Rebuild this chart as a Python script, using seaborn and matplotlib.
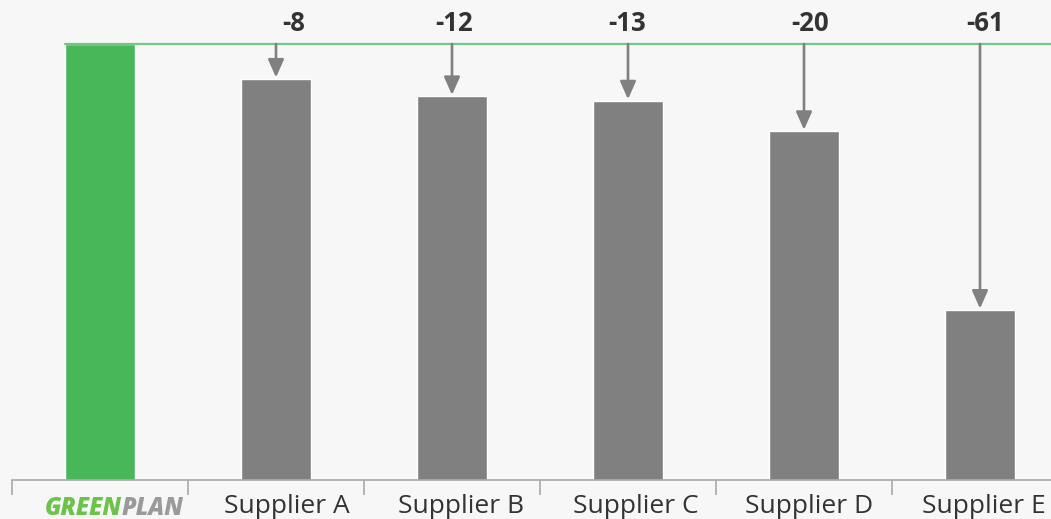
import matplotlib
matplotlib.use("Agg")
import matplotlib.pyplot as plt
import matplotlib.transforms as mtransforms
import seaborn as sns
import pandas as pd

# Scores: own plan vs. each supplier
categories = ["GREENPLAN", "Supplier A", "Supplier B", "Supplier C", "Supplier D", "Supplier E"]
values = [100, 92, 88, 87, 80, 39]
gaps = ["-8", "-12", "-13", "-20", "-61"]

BG = "#f7f7f7"
GREEN = "#47b75a"
LINE_GREEN = "#74c883"
GREY = "#808080"
AXIS = "#aaaaaa"
TEXT = "#333333"

# horizontal nudges (pixels) for the gap labels and the category labels
gap_nudge_px = [18, 2, -1, 6, 5]
label_nudge_px = [0, 11, 9, 7.5, 5.5, 3.5]

sns.set_theme(style="white")
plt.rcParams["font.family"] = ["Open Sans", "DejaVu Sans"]

df = pd.DataFrame({"name": categories, "value": values})

DPI = 100
fig = plt.figure(figsize=(10.51, 5.19), dpi=DPI, facecolor=BG)
W, H = 1051, 519
ax = fig.add_axes([12 / W, (H - 480) / H, 1056 / W, (480 - 44) / H])
ax.set_facecolor(BG)

palette = [GREEN] + [GREY] * (len(categories) - 1)
sns.barplot(data=df, x="name", y="value", hue="name", palette=palette,
            width=0.4, legend=False, ax=ax, saturation=1)

ax.set_xlim(-0.5, len(categories) - 0.5)
ax.set_ylim(0, values[0])
for side in ["top", "right", "left"]:
    ax.spines[side].set_visible(False)
ax.spines["bottom"].set_color(AXIS)
ax.spines["bottom"].set_linewidth(1.2)
ax.set_xlabel("")
ax.set_ylabel("")
ax.set_yticks([])

# category labels and dividers between categories
ax.set_xticks(range(len(categories)))
ax.set_xticklabels([""] + categories[1:])
ax.set_xticks([i - 0.5 for i in range(len(categories) + 1)], minor=True)
ax.tick_params(axis="x", which="minor", bottom=True, length=11, width=1.2,
               color=AXIS, direction="out")
ax.tick_params(axis="x", which="major", bottom=False, length=0, pad=10,
               labelsize=19, labelcolor=TEXT)
for lbl, dx in zip(ax.get_xticklabels(), label_nudge_px):
    shift = mtransforms.ScaledTranslation(dx / DPI, 0, fig.dpi_scale_trans)
    lbl.set_transform(lbl.get_transform() + shift)

# reference line at the plan's level
bar_left = ax.patches[0].get_x()
ax.plot([bar_left, len(categories) - 0.5], [values[0], values[0]],
        color=LINE_GREEN, lw=1.6, clip_on=False, zorder=3)

# arrows from the reference line down to each supplier bar, with gap labels
for i, (v, g, dx) in enumerate(zip(values[1:], gaps, gap_nudge_px), start=1):
    ax.annotate("", xy=(i, v), xytext=(i, values[0]),
                arrowprops=dict(arrowstyle="-|>,head_length=0.9,head_width=0.4",
                                color=GREY, lw=1.9, shrinkA=0, shrinkB=1),
                annotation_clip=False)
    ax.annotate(g, xy=(i, values[0]), xytext=(dx * 72 / DPI, 15),
                textcoords="offset points", ha="center", va="center",
                fontsize=18.5, fontweight="bold", color=TEXT, annotation_clip=False)

# brand label under the first bar
t1 = ax.annotate("GREEN", xy=(-0.316, 0), xycoords=("data", "axes fraction"),
                 xytext=(0, -20.5), textcoords="offset points",
                 ha="left", va="center", fontsize=17, fontweight="heavy",
                 fontstyle="italic", color="#6cc24a", annotation_clip=False)
ax.annotate("PLAN", xy=(1, 0.5), xycoords=t1, ha="left", va="center",
            fontsize=17, fontweight="heavy", fontstyle="italic", color="#9a9a9a")

fig.savefig("out.png", dpi=DPI, facecolor=BG)
